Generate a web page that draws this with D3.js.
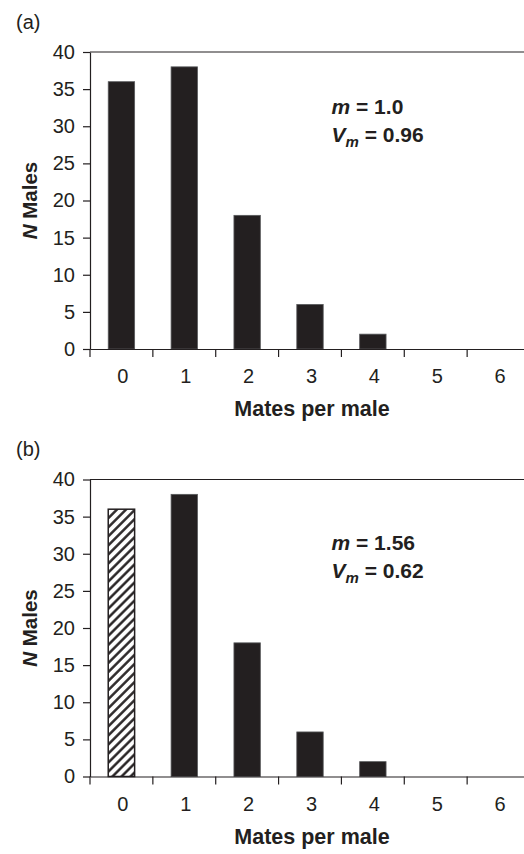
<!DOCTYPE html>
<html>
<head>
<meta charset="utf-8">
<script src="https://cdn.jsdelivr.net/npm/d3@7/dist/d3.min.js"></script>
<style>
  html, body { margin: 0; padding: 0; background: #fff; }
  svg { display: block; font-family: "Liberation Sans", Arial, Helvetica, sans-serif; }
</style>
</head>
<body>
<svg id="chart"></svg>
<script>
/*
Data
*/

const matesPerMale = ["0", "1", "2", "3", "4", "5", "6"];
const malesA       = [36, 38, 18, 6, 2, 0, 0];
const malesB       = [36, 38, 18, 6, 2, 0, 0];
const hatchedA     = [];
const hatchedB     = ["0"];
const yTicks       = [0, 5, 10, 15, 20, 25, 30, 35, 40];
const panelTags    = ["(a)", "(b)"];
const meanLabels   = ["1.0", "1.56"];
const varLabels    = ["0.96", "0.62"];

/*
Layout
*/

const W = 524, H = 854;
const INK = "#231f20";

// Bar Panel Entry Point
let BarPanel = function (config) {
  return this.__init__(config);
};

// Bar Panel Methods
BarPanel.prototype = {

  __init__ : function (config) {
    const self = this;

    self.svg     = config.svg;
    self.top     = config.top;
    self.height  = 297;
    self.left    = 90;
    self.right   = 530;
    self.values  = config.values;
    self.hatched = config.hatched;

    self.x = d3.scaleBand()
      .domain(matesPerMale)
      .range([self.left, self.right])
      .paddingInner(0.58)
      .paddingOuter(0.29);

    self.y = d3.scaleLinear()
      .domain([0, 40])
      .range([self.top + self.height, self.top]);

    self.g = self.svg.append("g").classed("panel", true);

    // plot area top border
    self.g.append("line")
      .attr("x1", self.left).attr("x2", self.right)
      .attr("y1", self.y(40)).attr("y2", self.y(40))
      .attr("stroke", INK).attr("stroke-width", 1.2);

    // bars
    const rows = matesPerMale.map((c, i) => ({ cat: c, value: self.values[i] }));
    self.g.append("g")
      .classed("bars", true)
      .selectAll("rect")
      .data(rows.filter(d => d.value > 0))
      .enter()
      .append("rect")
      .attr("x", d => self.x(d.cat))
      .attr("y", d => self.y(d.value))
      .attr("width", self.x.bandwidth())
      .attr("height", d => self.y(0) - self.y(d.value))
      .attr("fill", d => self.hatched.includes(d.cat) ? "url(#hatch)" : INK)
      .attr("stroke", d => self.hatched.includes(d.cat) ? INK : "#58595b")
      .attr("stroke-width", d => self.hatched.includes(d.cat) ? 1.5 : 0.8);

    // y axis
    const yAxis = self.g.append("g")
      .attr("transform", "translate(" + self.left + ",0)")
      .call(d3.axisLeft(self.y).tickValues(yTicks).tickSize(7).tickSizeOuter(0).tickPadding(8));
    yAxis.selectAll("path, line").attr("stroke", INK).attr("stroke-width", 1.2);
    yAxis.selectAll("text")
      .attr("fill", INK)
      .style("font-size", "20px")
      .style("font-family", "'Liberation Sans', Arial, sans-serif");

    // x axis, labels centred on bands
    const xAxis = self.g.append("g")
      .attr("transform", "translate(0," + self.y(0) + ")")
      .call(d3.axisBottom(self.x).tickSize(0).tickPadding(20));
    xAxis.select("path").attr("stroke", INK).attr("stroke-width", 1.2);
    xAxis.selectAll("text")
      .attr("fill", INK)
      .attr("dx", 1.5)
      .style("font-size", "20px")
      .style("font-family", "'Liberation Sans', Arial, sans-serif");

    // x ticks sit on band boundaries
    const half = self.x.step() * self.x.paddingInner() / 2;
    const edges = matesPerMale.map(c => self.x(c) - half);
    self.g.append("g")
      .selectAll("line")
      .data(edges)
      .enter()
      .append("line")
      .attr("x1", d => d).attr("x2", d => d)
      .attr("y1", self.y(0)).attr("y2", self.y(0) + 8)
      .attr("stroke", INK).attr("stroke-width", 1.2);

    // axis titles
    self.g.append("text")
      .attr("x", 312)
      .attr("y", self.y(0) + 67)
      .attr("text-anchor", "middle")
      .attr("font-weight", "bold")
      .attr("font-size", 21.5)
      .attr("fill", INK)
      .text("Mates per male");

    const yTitle = self.g.append("text")
      .attr("transform", "translate(37," + (self.top + self.height / 2) + ") rotate(-90)")
      .attr("text-anchor", "middle")
      .attr("font-weight", "bold")
      .attr("font-size", 20.5)
      .attr("fill", INK);
    yTitle.append("tspan").attr("font-style", "italic").text("N");
    yTitle.append("tspan").text(" Males");

    // panel tag
    self.g.append("text")
      .attr("x", 16)
      .attr("y", config.tagY)
      .attr("font-size", 20)
      .attr("fill", INK)
      .text(config.tag);

    // mean and variance note
    const note1 = self.g.append("text")
      .attr("x", 331.5)
      .attr("y", self.top + config.noteY)
      .attr("font-weight", "bold")
      .attr("font-size", 21)
      .attr("fill", INK);
    note1.append("tspan").attr("font-style", "italic").text("m");
    note1.append("tspan").text(" = " + config.mean);

    const note2 = self.g.append("text")
      .attr("x", 331.5)
      .attr("y", self.top + config.noteY + 28)
      .attr("font-weight", "bold")
      .attr("font-size", 21)
      .attr("fill", INK);
    note2.append("tspan").attr("font-style", "italic").text("V");
    note2.append("tspan").attr("font-style", "italic").attr("font-size", 15).attr("dy", 5).text("m");
    note2.append("tspan").attr("dy", -5).text(" = " + config.variance);

    return self;
  }

};

const svg = d3.select("#chart")
  .attr("width", W)
  .attr("height", H)
  .attr("viewBox", "0 0 " + W + " " + H);

// diagonal hatch for the excluded class
svg.append("defs")
  .append("pattern")
  .attr("id", "hatch")
  .attr("patternUnits", "userSpaceOnUse")
  .attr("width", 6.4)
  .attr("height", 6.4)
  .attr("patternTransform", "rotate(45)")
  .call(p => p.append("rect").attr("width", 6.4).attr("height", 6.4).attr("fill", "#fff"))
  .call(p => p.append("line")
    .attr("x1", 1.4).attr("x2", 1.4)
    .attr("y1", 0).attr("y2", 6.4)
    .attr("stroke", INK).attr("stroke-width", 2.4));

new BarPanel({ svg: svg, top: 52,  values: malesA, hatched: hatchedA,
  tag: panelTags[0], tagY: 29,  noteY: 62, mean: meanLabels[0], variance: varLabels[0] });
new BarPanel({ svg: svg, top: 479.5, values: malesB, hatched: hatchedB,
  tag: panelTags[1], tagY: 456, noteY: 70, mean: meanLabels[1], variance: varLabels[1] });
</script>
</body>
</html>
